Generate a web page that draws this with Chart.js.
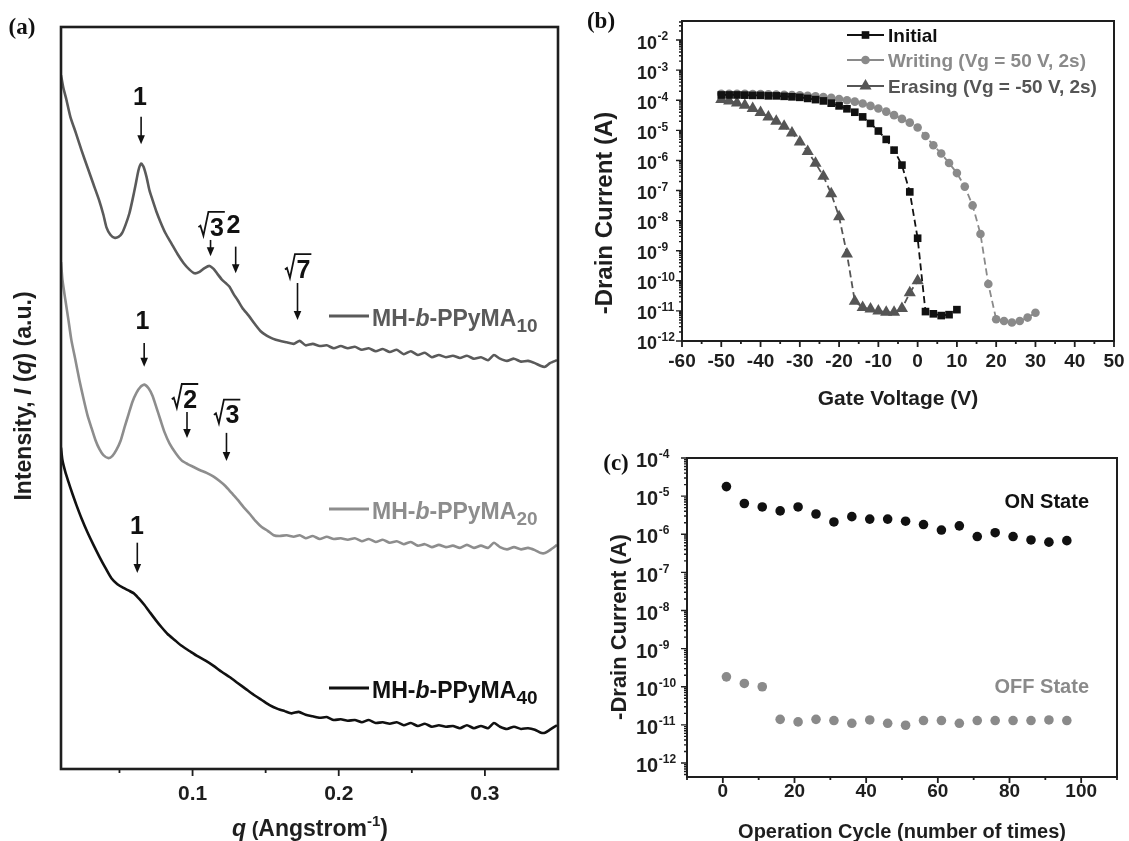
<!DOCTYPE html>
<html lang="en">

<head>
    <meta charset="UTF-8">
    <title>SAXS profiles and memory transistor characteristics</title>
    <script src="https://cdn.jsdelivr.net/npm/chart.js@4.4.1/dist/chart.umd.min.js"></script>
    <style>
        body {
            margin: 0;
            background: #ffffff;
        }

        #wrap {
            position: relative;
            width: 1129px;
            height: 841px;
        }

        #wrap canvas {
            position: absolute;
            left: 0;
            top: 0;
        }
    </style>
</head>

<body>
    <div id="wrap">
        <canvas id="chartA" width="1129" height="841"></canvas>
        <canvas id="chartB" width="1129" height="841"></canvas>
        <canvas id="chartC" width="1129" height="841"></canvas>
    </div>

    <script>
        // ---------- (a) SAXS profiles: q (1/Angstrom) vs offset intensity (a.u.) ----------
        const qTen = [0.010, 0.0116, 0.0137, 0.0164, 0.0202, 0.0240, 0.0281, 0.0322, 0.0360, 0.0390,
            0.0411, 0.0438, 0.0466, 0.0493, 0.0517, 0.0541, 0.0568, 0.0589, 0.0610, 0.0630,
            0.0648, 0.0664, 0.0685, 0.0705, 0.0726, 0.0753, 0.0781, 0.0815, 0.0856, 0.0897,
            0.0938, 0.0979, 0.1014, 0.1048, 0.1082, 0.1116, 0.1144, 0.1171, 0.1199, 0.1226,
            0.1253, 0.1281, 0.1308, 0.1342, 0.1384, 0.1425, 0.1466, 0.1507, 0.1548, 0.1596,
            0.1644, 0.1692, 0.1733, 0.1774, 0.1822, 0.1870, 0.1918, 0.1966, 0.2014, 0.2062,
            0.2110, 0.2158, 0.2205, 0.2253, 0.2301, 0.2349, 0.2397, 0.2445, 0.2493, 0.2541,
            0.2589, 0.2637, 0.2685, 0.2733, 0.2781, 0.2829, 0.2877, 0.2925, 0.2973, 0.3021,
            0.3062, 0.3103, 0.3151, 0.3199, 0.3247, 0.3295, 0.3342, 0.3384, 0.3411, 0.3445,
            0.3493];
        const iTen = [93.5, 91.8, 90.2, 87.9, 85.7, 83.4, 81.1, 78.8, 76.7, 74.7,
            73.0, 72.0, 71.6, 71.7, 72.2, 73.3, 74.9, 76.7, 78.7, 80.7,
            81.6, 81.2, 79.8, 78.0, 76.7, 75.1, 73.7, 72.2, 70.8, 69.4,
            68.2, 67.3, 66.8, 67.0, 67.5, 67.8, 67.4, 66.7, 66.0, 65.5,
            65.0, 64.0, 63.2, 62.1, 61.1, 60.0, 59.0, 58.4, 58.0, 57.7,
            57.5, 57.3, 57.7, 57.1, 57.3, 57.0, 57.1, 56.7, 57.0, 56.7,
            56.9, 56.5, 56.7, 56.3, 56.6, 56.2, 56.5, 55.9, 56.3, 55.8,
            56.1, 55.5, 55.8, 55.5, 55.7, 55.4, 55.7, 55.3, 55.5, 55.1,
            55.8, 55.3, 55.0, 55.3, 54.9, 55.0, 54.7, 54.3, 54.2, 54.7,
            55.1];

        const qTwenty = [0.010, 0.0110, 0.0130, 0.0151, 0.0171, 0.0199, 0.0226, 0.0253, 0.0281, 0.0308,
            0.0336, 0.0363, 0.0390, 0.0425, 0.0452, 0.0479, 0.0507, 0.0534, 0.0562, 0.0589,
            0.0616, 0.0644, 0.0671, 0.0699, 0.0726, 0.0753, 0.0781, 0.0808, 0.0842, 0.0884,
            0.0925, 0.0966, 0.1007, 0.1048, 0.1096, 0.1144, 0.1185, 0.1226, 0.1267, 0.1308,
            0.1349, 0.1390, 0.1432, 0.1473, 0.1514, 0.1555, 0.1596, 0.1644, 0.1692, 0.1733,
            0.1774, 0.1822, 0.1870, 0.1918, 0.1966, 0.2014, 0.2062, 0.2110, 0.2158, 0.2205,
            0.2253, 0.2301, 0.2349, 0.2397, 0.2445, 0.2493, 0.2541, 0.2589, 0.2637, 0.2685,
            0.2733, 0.2781, 0.2829, 0.2877, 0.2925, 0.2973, 0.3021, 0.3062, 0.3103, 0.3151,
            0.3199, 0.3247, 0.3295, 0.3342, 0.3384, 0.3411, 0.3445, 0.3493];
        const iTwenty = [68.3, 65.9, 63.2, 60.5, 57.8, 55.1, 52.4, 50.0, 47.7, 46.0,
            44.3, 43.1, 42.3, 41.9, 42.2, 43.0, 44.2, 46.0, 47.8, 49.5,
            50.7, 51.5, 51.8, 51.3, 50.3, 48.7, 47.0, 45.4, 43.9, 42.6,
            41.6, 41.1, 40.7, 40.3, 39.9, 39.4, 38.8, 38.1, 37.2, 36.3,
            35.3, 34.4, 33.4, 32.6, 32.1, 31.5, 31.4, 31.5, 31.3, 31.5,
            31.1, 31.4, 31.0, 31.3, 31.0, 31.1, 30.9, 31.1, 30.7, 31.0,
            30.6, 30.9, 30.5, 30.7, 30.3, 30.6, 30.1, 30.3, 29.9, 30.2,
            29.9, 30.1, 29.8, 30.2, 29.8, 30.1, 29.8, 30.5, 29.9, 29.6,
            29.9, 29.6, 29.8, 29.5, 29.1, 29.1, 29.5, 30.2];

        const qForty = [0.010, 0.0110, 0.0130, 0.0151, 0.0178, 0.0205, 0.0240, 0.0281, 0.0322, 0.0363,
            0.0404, 0.0445, 0.0486, 0.0527, 0.0568, 0.0603, 0.0637, 0.0671, 0.0705, 0.0747,
            0.0788, 0.0829, 0.0877, 0.0925, 0.0979, 0.1034, 0.1089, 0.1144, 0.1199, 0.1253,
            0.1308, 0.1363, 0.1418, 0.1473, 0.1527, 0.1582, 0.1630, 0.1678, 0.1726, 0.1774,
            0.1822, 0.1870, 0.1918, 0.1966, 0.2014, 0.2062, 0.2110, 0.2158, 0.2205, 0.2253,
            0.2301, 0.2349, 0.2397, 0.2445, 0.2493, 0.2541, 0.2589, 0.2637, 0.2685, 0.2733,
            0.2781, 0.2829, 0.2877, 0.2925, 0.2973, 0.3021, 0.3062, 0.3103, 0.3151, 0.3199,
            0.3247, 0.3295, 0.3342, 0.3384, 0.3411, 0.3445, 0.3493];
        const iForty = [43.3, 41.6, 40.0, 38.7, 37.1, 35.6, 33.8, 31.9, 30.2, 28.6,
            27.1, 25.7, 24.9, 24.4, 24.0, 23.6, 22.9, 22.1, 21.2, 20.1,
            19.1, 18.2, 17.4, 16.6, 15.9, 15.2, 14.6, 13.9, 13.1, 12.4,
            11.6, 10.8, 10.0, 9.3, 8.6, 8.1, 7.8, 7.5, 7.7, 7.3,
            7.1, 6.9, 7.0, 6.6, 6.7, 6.5, 6.6, 6.3, 6.6, 6.2,
            6.3, 6.1, 6.3, 5.9, 6.2, 5.8, 6.1, 5.7, 5.9, 5.7,
            5.8, 5.5, 5.9, 5.5, 5.8, 5.5, 6.2, 5.7, 5.4, 5.7,
            5.4, 5.5, 5.3, 4.9, 4.9, 5.3, 5.9];

        const qMajorTicks = [0.1, 0.2, 0.3];
        const qMinorTicks = [0.05, 0.15, 0.25];
        const sampleSubscripts = ['10', '20', '40'];

        // peak index labels (q, intensity) and their arrows
        const peakLabels = ['1', '√3', '2', '√7', '1', '√2', '√3', '1'];
        const peakLabelQ = [0.0640, 0.1127, 0.1279, 0.1719, 0.0658, 0.0945, 0.1233, 0.0620];
        const peakLabelI = [90.7, 73.5, 73.5, 67.8, 60.5, 50.3, 48.2, 32.9];
        const arrowQ = [0.0648, 0.1123, 0.1295, 0.1718, 0.0669, 0.0962, 0.1232, 0.0622];
        const arrowTop = [87.9, 71.3, 70.4, 65.5, 57.4, 48.1, 45.3, 30.5];
        const arrowTip = [84.2, 69.1, 66.8, 60.5, 54.2, 44.6, 41.5, 26.4];

        // ---------- (b) transfer curves ----------
        const gateInitial = [-50, -48, -46, -44, -42, -40, -38, -36, -34, -32, -30, -28, -26, -24, -22, -20,
            -18, -16, -14, -12, -10, -8, -6, -4, -2, 0, 2, 4, 6, 8, 10];
        const currentInitial = [1.5e-4, 1.5e-4, 1.5e-4, 1.48e-4, 1.45e-4, 1.45e-4, 1.4e-4, 1.4e-4, 1.35e-4, 1.3e-4,
            1.25e-4, 1.15e-4, 1.05e-4, 9.5e-5, 8e-5, 6.5e-5, 5.2e-5, 4e-5, 2.8e-5, 1.7e-5,
            9.5e-6, 5e-6, 2.2e-6, 7e-7, 9e-8, 2.6e-9, 9.5e-12, 8e-12, 7e-12, 7.5e-12, 1.1e-11];

        const gateWriting = [-50, -48, -46, -44, -42, -40, -38, -36, -34, -32, -30, -28, -26, -24, -22, -20,
            -18, -16, -14, -12, -10, -8, -6, -4, -2, 0, 2, 4, 6, 8, 10, 12, 14, 16, 18, 20, 22, 24, 26, 28, 30];
        const currentWriting = [1.65e-4, 1.65e-4, 1.65e-4, 1.65e-4, 1.62e-4, 1.6e-4, 1.58e-4, 1.55e-4, 1.52e-4, 1.5e-4,
            1.45e-4, 1.4e-4, 1.35e-4, 1.28e-4, 1.2e-4, 1.1e-4, 1.0e-4, 9e-5, 7.8e-5, 6.5e-5,
            5.3e-5, 4.2e-5, 3.2e-5, 2.4e-5, 1.8e-5, 1.25e-5, 6.5e-6, 3.2e-6, 1.7e-6, 8.2e-7,
            3.8e-7, 1.35e-7, 3.2e-8, 3.6e-9, 7.8e-11, 5.3e-12, 4.6e-12, 4.1e-12, 4.6e-12, 6e-12, 8.7e-12];

        const gateErasing = [-50, -48, -46, -44, -42, -40, -38, -36, -34, -32, -30, -28, -26, -24, -22, -20,
            -18, -16, -14, -12, -10, -8, -6, -4, -2, 0];
        const currentErasing = [1.05e-4, 9.5e-5, 8.1e-5, 6.8e-5, 5.3e-5, 3.9e-5, 2.8e-5, 2e-5, 1.36e-5, 8.1e-6,
            4.1e-6, 2e-6, 8.1e-7, 3e-7, 7.8e-8, 1.35e-8, 7.8e-10, 2.1e-11, 1.3e-11, 1.15e-11,
            1e-11, 9e-12, 9e-12, 1.2e-11, 4e-11, 1e-10];

        const gateTicks = [-60, -50, -40, -30, -20, -10, 0, 10, 20, 30, 40, 50];
        const gateMinorTicks = [-55, -45, -35, -25, -15, -5, 5, 15, 25, 35, 45];
        const decadesB = [-12, -11, -10, -9, -8, -7, -6, -5, -4, -3, -2];
        const legendB = ['Initial', 'Writing (Vg = 50 V, 2s)', 'Erasing (Vg = -50 V, 2s)'];

        // ---------- (c) endurance ----------
        const cycles = [1, 6, 11, 16, 21, 26, 31, 36, 41, 46, 51, 56, 61, 66, 71, 76, 81, 86, 91, 96];
        const currentOn = [1.78e-5, 6.4e-6, 5.2e-6, 4.1e-6, 5.2e-6, 3.4e-6, 2.1e-6, 2.9e-6, 2.5e-6, 2.5e-6,
            2.2e-6, 1.8e-6, 1.29e-6, 1.66e-6, 8.7e-7, 1.1e-6, 8.7e-7, 7.1e-7, 6.2e-7, 6.8e-7];
        const currentOff = [1.82e-10, 1.22e-10, 1e-10, 1.4e-11, 1.2e-11, 1.4e-11, 1.3e-11, 1.1e-11, 1.35e-11, 1.1e-11,
            9.8e-12, 1.3e-11, 1.3e-11, 1.1e-11, 1.3e-11, 1.3e-11, 1.3e-11, 1.3e-11, 1.35e-11, 1.3e-11];
        const cycleTicks = [0, 20, 40, 60, 80, 100];
        const cycleMinorTicks = [-10, 10, 30, 50, 70, 90, 110];
        const decadesC = [-12, -11, -10, -9, -8, -7, -6, -5, -4];

        // ---------- drawing helpers ----------
        const SANS = '"Liberation Sans", Arial, Helvetica, sans-serif';
        const SERIF = '"Liberation Serif", "Times New Roman", serif';
        const INK = '#1e1e1e';

        const pts = (xs, ys) => xs.map((v, i) => ({ x: v, y: ys[i] }));

        function fontOf(size, italic, family) {
            return (italic ? 'italic ' : '') + 'bold ' + size + 'px ' + (family || SANS);
        }

        // parts: [text, size, italic, shiftDown]
        function drawRuns(ctx, parts, x, yc, align, color) {
            ctx.save();
            ctx.textAlign = 'left';
            ctx.textBaseline = 'alphabetic';
            ctx.fillStyle = color || INK;
            let w = 0;
            parts.forEach(p => { ctx.font = fontOf(p[1], p[2]); w += ctx.measureText(p[0]).width; });
            let cx = align === 'center' ? x - w / 2 : align === 'right' ? x - w : x;
            const base = yc + parts[0][1] * 0.36;
            parts.forEach(p => {
                ctx.font = fontOf(p[1], p[2]);
                ctx.fillText(p[0], cx, base + (p[3] || 0));
                cx += ctx.measureText(p[0]).width;
            });
            ctx.restore();
        }

        function drawRotated(ctx, parts, cx, cy, color) {
            ctx.save();
            ctx.translate(cx, cy);
            ctx.rotate(-Math.PI / 2);
            drawRuns(ctx, parts, 0, 0, 'center', color);
            ctx.restore();
        }

        function label(ctx, s, x, yc, size, align, color, family) {
            ctx.save();
            ctx.font = fontOf(size, false, family);
            ctx.fillStyle = color || INK;
            ctx.textAlign = align || 'center';
            ctx.textBaseline = 'alphabetic';
            ctx.fillText(s, x, yc + size * 0.36);
            ctx.restore();
        }

        function frame(ctx, a, lw) {
            ctx.save();
            ctx.lineWidth = lw;
            ctx.strokeStyle = INK;
            ctx.strokeRect(a.left, a.top, a.right - a.left, a.bottom - a.top);
            ctx.restore();
        }

        function ticksX(ctx, scale, a, values, len) {
            ctx.save();
            ctx.lineWidth = 1.8;
            ctx.strokeStyle = INK;
            ctx.beginPath();
            values.forEach(v => {
                const px = scale.getPixelForValue(v);
                ctx.moveTo(px, a.bottom);
                ctx.lineTo(px, a.bottom + len);
            });
            ctx.stroke();
            ctx.restore();
        }

        // decade ticks plus 2..9 minor ticks on a log y axis
        function ticksLogY(ctx, scale, a, decades) {
            ctx.save();
            ctx.lineWidth = 1.4;
            ctx.strokeStyle = INK;
            ctx.beginPath();
            const lo = decades[0] - 1, hi = decades[decades.length - 1] + 1;
            for (let e = lo; e <= hi; e++) {
                for (let k = 1; k <= 9; k++) {
                    const v = k * Math.pow(10, e);
                    if (v < scale.min * 0.999 || v > scale.max * 1.001) continue;
                    const py = scale.getPixelForValue(v);
                    const len = k === 1 ? 6 : 3;
                    ctx.moveTo(a.left, py);
                    ctx.lineTo(a.left - len, py);
                }
            }
            ctx.stroke();
            ctx.restore();
        }

        function powLabel(ctx, xLeft, yc, exp, size, supSize) {
            ctx.save();
            ctx.fillStyle = INK;
            ctx.textAlign = 'left';
            ctx.textBaseline = 'alphabetic';
            ctx.font = fontOf(size);
            const wb = ctx.measureText('10').width;
            const base = yc + size * 0.36;
            ctx.fillText('10', xLeft, base);
            ctx.font = fontOf(supSize);
            ctx.fillText(String(exp), xLeft + wb + 0.5, base - size * 0.45);
            ctx.restore();
        }

        function arrowDown(ctx, px, y1, y2) {
            ctx.save();
            ctx.strokeStyle = '#111';
            ctx.fillStyle = '#111';
            ctx.lineWidth = 1.6;
            ctx.beginPath();
            ctx.moveTo(px, y1);
            ctx.lineTo(px, y2 - 7);
            ctx.stroke();
            ctx.beginPath();
            ctx.moveTo(px - 3.8, y2 - 9);
            ctx.lineTo(px + 3.8, y2 - 9);
            ctx.lineTo(px, y2);
            ctx.closePath();
            ctx.fill();
            ctx.restore();
        }

        // "√n" with a drawn radical and vinculum
        function rootLabel(ctx, digit, cx, yc, size) {
            ctx.save();
            ctx.font = fontOf(size);
            const dw = ctx.measureText(digit).width;
            const rw = size * 0.46;
            const x0 = cx - (rw + dw) / 2;
            const base = yc + size * 0.36 + 3;
            ctx.strokeStyle = '#111';
            ctx.fillStyle = '#111';
            ctx.lineWidth = 1.8;
            ctx.lineJoin = 'miter';
            ctx.beginPath();
            ctx.moveTo(x0, base - size * 0.34);
            ctx.lineTo(x0 + size * 0.08, base - size * 0.40);
            ctx.lineTo(x0 + size * 0.2, base);
            ctx.lineTo(x0 + size * 0.4, base - size * 0.95);
            ctx.lineTo(x0 + rw + dw + 1, base - size * 0.95);
            ctx.stroke();
            ctx.textAlign = 'left';
            ctx.textBaseline = 'alphabetic';
            ctx.fillText(digit, x0 + rw, base);
            ctx.restore();
        }

        function marker(ctx, style, x, y, r, color) {
            ctx.save();
            ctx.fillStyle = color;
            ctx.beginPath();
            if (style === 'rect') {
                const s = r * Math.SQRT1_2;
                ctx.rect(x - s, y - s, 2 * s, 2 * s);
            } else if (style === 'triangle') {
                ctx.moveTo(x, y - r);
                ctx.lineTo(x + r * Math.sin(2 * Math.PI / 3), y + r / 2);
                ctx.lineTo(x - r * Math.sin(2 * Math.PI / 3), y + r / 2);
                ctx.closePath();
            } else {
                ctx.arc(x, y, r, 0, Math.PI * 2);
            }
            ctx.fill();
            ctx.restore();
        }

        const baseOptions = {
            responsive: false,
            animation: false,
            events: [],
            plugins: { legend: { display: false }, tooltip: { enabled: false } }
        };

        // ---------- panel (a) ----------
        const colorsA = ['#5a5a5a', '#8d8d8d', '#111111'];
        const legendRowsA = [318, 511, 690];

        const panelA = {
            id: 'panelA',
            afterDraw(chart) {
                const { ctx, chartArea: a, scales: { x, y } } = chart;
                frame(ctx, a, 2.6);
                ticksX(ctx, x, a, qMajorTicks, 7);
                ticksX(ctx, x, a, qMinorTicks, 4);
                qMajorTicks.forEach(v => label(ctx, v.toFixed(1), x.getPixelForValue(v), 792, 21));

                drawRuns(ctx, [['q', 23, true], [' (', 20], ['Angstrom', 23], ['-1', 15, false, -10], [')', 23]], 310, 828, 'center');
                drawRotated(ctx, [['Intensity, ', 23], ['I', 23, true], [' (', 23], ['q', 23, true], [') (a.u.)', 23]], 23, 396);

                legendRowsA.forEach((yc, i) => {
                    ctx.save();
                    ctx.strokeStyle = colorsA[i];
                    ctx.lineWidth = 3;
                    ctx.beginPath();
                    ctx.moveTo(329, yc - 2);
                    ctx.lineTo(369, yc - 2);
                    ctx.stroke();
                    ctx.restore();
                    drawRuns(ctx, [['MH-', 23], ['b', 23, true], ['-PPyMA', 23], [sampleSubscripts[i], 19, false, 6]], 372, yc, 'left', colorsA[i]);
                });

                peakLabels.forEach((s, i) => {
                    const px = x.getPixelForValue(peakLabelQ[i]);
                    const py = y.getPixelForValue(peakLabelI[i]);
                    if (s.startsWith('√')) rootLabel(ctx, s.slice(1), px, py, 25);
                    else label(ctx, s, px, py, 25, 'center', '#111');
                    arrowDown(ctx, x.getPixelForValue(arrowQ[i]), y.getPixelForValue(arrowTop[i]), y.getPixelForValue(arrowTip[i]));
                });

                label(ctx, '(a)', 22, 26, 23, 'center', '#111', SERIF);
            }
        };

        new Chart(document.getElementById('chartA'), {
            type: 'line',
            data: {
                datasets: [
                    { data: pts(qTen, iTen), borderColor: colorsA[0], borderWidth: 2.6, pointRadius: 0, tension: 0.2 },
                    { data: pts(qTwenty, iTwenty), borderColor: colorsA[1], borderWidth: 2.6, pointRadius: 0, tension: 0.2 },
                    { data: pts(qForty, iForty), borderColor: colorsA[2], borderWidth: 2.6, pointRadius: 0, tension: 0.2 }
                ]
            },
            options: {
                ...baseOptions,
                layout: { padding: { left: 61, top: 27, right: 571, bottom: 72 } },
                scales: {
                    x: { type: 'linear', min: 0.01, max: 0.35, display: false },
                    y: { type: 'linear', min: 0, max: 100, display: false }
                }
            },
            plugins: [panelA]
        });

        // ---------- panel (b) ----------
        const colorsB = ['#111111', '#8a8a8a', '#555555'];
        const stylesB = ['rect', 'circle', 'triangle'];
        const radiiB = [5.4, 4.3, 7];
        const legendRowsB = [35, 60, 86];

        const panelB = {
            id: 'panelB',
            afterDraw(chart) {
                const { ctx, chartArea: a, scales: { x, y } } = chart;
                frame(ctx, a, 2);
                ticksX(ctx, x, a, gateTicks, 6);
                ticksX(ctx, x, a, gateMinorTicks, 3);
                ticksLogY(ctx, y, a, decadesB);
                gateTicks.forEach(v => label(ctx, String(v), x.getPixelForValue(v), 360, 19));
                decadesB.forEach(e => powLabel(ctx, 637, y.getPixelForValue(Math.pow(10, e)) + 2, e, 18, 12));

                label(ctx, 'Gate Voltage (V)', (a.left + a.right) / 2, 397, 21);
                drawRotated(ctx, [['-Drain Current (A)', 24]], 603, 213);

                legendRowsB.forEach((yc, i) => {
                    ctx.save();
                    ctx.strokeStyle = colorsB[i];
                    ctx.lineWidth = 2;
                    ctx.beginPath();
                    ctx.moveTo(847, yc);
                    ctx.lineTo(884, yc);
                    ctx.stroke();
                    ctx.restore();
                    marker(ctx, stylesB[i], 865.5, yc, radiiB[i], colorsB[i]);
                    label(ctx, legendB[i], 888, yc, 19, 'left', colorsB[i]);
                });

                label(ctx, '(b)', 601, 20, 23, 'center', '#111', SERIF);
            }
        };

        const seriesB = (xs, ys, i) => ({
            label: legendB[i],
            data: pts(xs, ys),
            borderColor: colorsB[i],
            backgroundColor: colorsB[i],
            borderWidth: 1.8,
            borderDash: [7, 4],
            pointStyle: stylesB[i],
            pointRadius: radiiB[i],
            pointBorderWidth: 0
        });

        new Chart(document.getElementById('chartB'), {
            type: 'line',
            data: {
                datasets: [
                    seriesB(gateInitial, currentInitial, 0),
                    seriesB(gateWriting, currentWriting, 1),
                    seriesB(gateErasing, currentErasing, 2)
                ]
            },
            options: {
                ...baseOptions,
                layout: { padding: { left: 682, top: 21, right: 15, bottom: 500 } },
                scales: {
                    x: { type: 'linear', min: -60, max: 50, display: false },
                    y: { type: 'logarithmic', min: 1e-12, max: 0.043, display: false }
                }
            },
            plugins: [panelB]
        });

        // ---------- panel (c) ----------
        const panelC = {
            id: 'panelC',
            afterDraw(chart) {
                const { ctx, chartArea: a, scales: { x, y } } = chart;
                frame(ctx, a, 2);
                ticksX(ctx, x, a, cycleTicks, 6);
                ticksX(ctx, x, a, cycleMinorTicks, 3);
                ticksLogY(ctx, y, a, decadesC);
                cycleTicks.forEach(v => label(ctx, String(v), x.getPixelForValue(v), 790, 19));
                decadesC.forEach(e => powLabel(ctx, 636, y.getPixelForValue(Math.pow(10, e)) + 2, e, 20, 12));

                label(ctx, 'Operation Cycle (number of times)', (a.left + a.right) / 2, 831, 20);
                drawRotated(ctx, [['-Drain Current (A)', 22]], 618, 627);

                label(ctx, 'ON State', 1089, 501, 20, 'right', '#111');
                label(ctx, 'OFF State', 1089, 686, 20, 'right', '#8a8a8a');
                label(ctx, '(c)', 616, 462, 23, 'center', '#111', SERIF);
            }
        };

        new Chart(document.getElementById('chartC'), {
            type: 'scatter',
            data: {
                datasets: [
                    { label: 'ON State', data: pts(cycles, currentOn), backgroundColor: '#111111', pointRadius: 4.8, pointBorderWidth: 0 },
                    { label: 'OFF State', data: pts(cycles, currentOff), backgroundColor: '#8a8a8a', pointRadius: 4.8, pointBorderWidth: 0 }
                ]
            },
            options: {
                ...baseOptions,
                layout: { padding: { left: 687, top: 458, right: 12, bottom: 64 } },
                scales: {
                    x: { type: 'linear', min: -10, max: 110, display: false },
                    y: { type: 'logarithmic', min: 4.3e-13, max: 1e-4, display: false }
                }
            },
            plugins: [panelC]
        });
    </script>
</body>

</html>
